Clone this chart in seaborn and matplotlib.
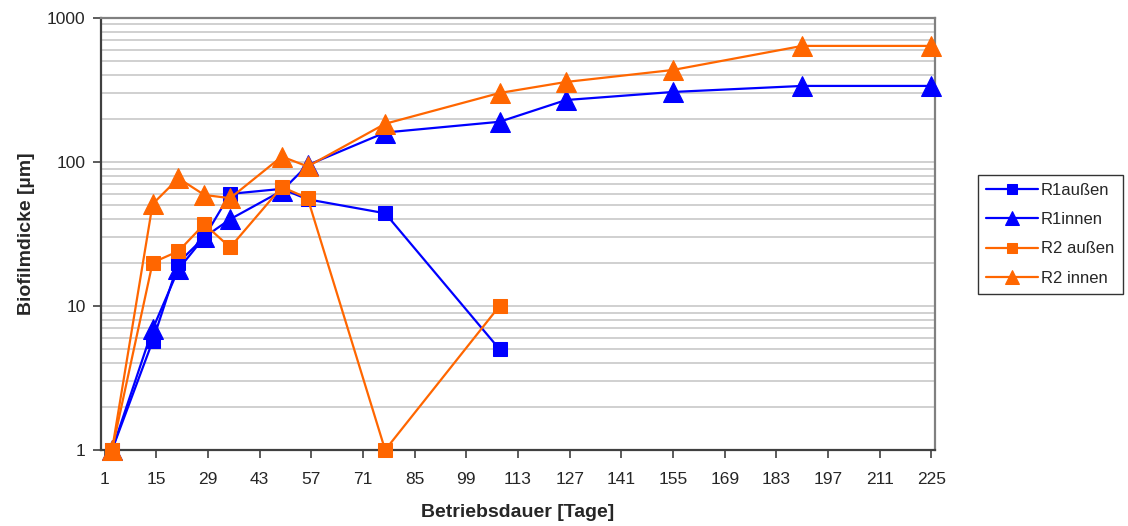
import numpy as np
import pandas as pd
import matplotlib
matplotlib.use("Agg")
import matplotlib.pyplot as plt
import seaborn as sns
from matplotlib.ticker import LogLocator, FixedLocator, NullFormatter

# data
tage = [3, 14, 21, 28, 35, 49, 56, 77, 108, 126, 155, 190, 225]
r1_aussen = [1, 5.7, 20, 30, 60, 65, 55, 44, 5.0]
r1_innen = [1, 6.9, 18, 30, 40, 63, 95, 160, 190, 269, 306, 337, 337]
r2_aussen = [1, 20, 24, 37, 25.5, 67, 56, 1, 10]
r2_innen = [1, 51, 77, 59, 56, 109, 93, 184, 301, 359, 435, 639, 639]
x_ticks = list(range(1, 226, 14))

sns.set_style("white")
plt.rcParams["font.family"] = ["Liberation Sans", "DejaVu Sans"]

fig = plt.figure(figsize=(11.28, 5.26), dpi=100)
ax = fig.add_axes([0.0895, 0.1445, 0.7395, 0.8215])

blau = "#0000FF"
orange = "#FF6600"

serien = [
    ("R1außen", r1_aussen, blau, "s", 10),
    ("R1innen", r1_innen, blau, "^", 14),
    ("R2 außen", r2_aussen, orange, "s", 10),
    ("R2 innen", r2_innen, orange, "^", 14),
]

for name, werte, farbe, marker, ms in serien:
    df = pd.DataFrame({"tag": tage[:len(werte)], "wert": werte})
    sns.lineplot(data=df, x="tag", y="wert", ax=ax, color=farbe, marker=marker,
                 markersize=ms, markeredgecolor=farbe, linewidth=1.6,
                 label=name, clip_on=False, zorder=3)

ax.set_yscale("log")
ax.set_ylim(1, 1000)
ax.set_xlim(0, 226)
ax.xaxis.set_major_locator(FixedLocator(x_ticks))
ax.set_xticklabels([str(t) for t in x_ticks])
ax.yaxis.set_major_locator(FixedLocator([1, 10, 100, 1000]))
ax.set_yticklabels(["1", "10", "100", "1000"])
ax.yaxis.set_minor_locator(LogLocator(base=10, subs=np.arange(2, 10)))
ax.yaxis.set_minor_formatter(NullFormatter())

ax.grid(True, which="both", axis="y", color="#c8c8c8", linewidth=1.2)
ax.grid(False, axis="x")
ax.set_axisbelow(True)

for s in ["left", "bottom"]:
    ax.spines[s].set_color("#404040")
    ax.spines[s].set_linewidth(1.6)
for s in ["top", "right"]:
    ax.spines[s].set_color("#808080")
    ax.spines[s].set_linewidth(1.6)

ax.tick_params(axis="both", which="major", direction="out", length=6, width=1.2,
               color="#404040", labelsize=12.5, left=True, bottom=True)
ax.tick_params(axis="x", which="major", pad=10)
ax.tick_params(axis="y", which="major", pad=5)
ax.tick_params(axis="y", which="minor", left=False)

ax.set_xlabel("Betriebsdauer [Tage]", fontsize=14, fontweight="bold", labelpad=12)
ax.set_ylabel("Biofilmdicke [µm]", fontsize=14, fontweight="bold", labelpad=9)

leg = ax.legend(loc="upper left", bbox_to_anchor=(1.051, 0.637), frameon=True,
                fancybox=False, edgecolor="black", fontsize=12,
                handlelength=3.1, borderpad=0.5, labelspacing=0.85,
                handletextpad=0.2, borderaxespad=0.0, markerscale=0.75)
leg.get_frame().set_linewidth(1.0)

fig.savefig("out.png", dpi=100)
